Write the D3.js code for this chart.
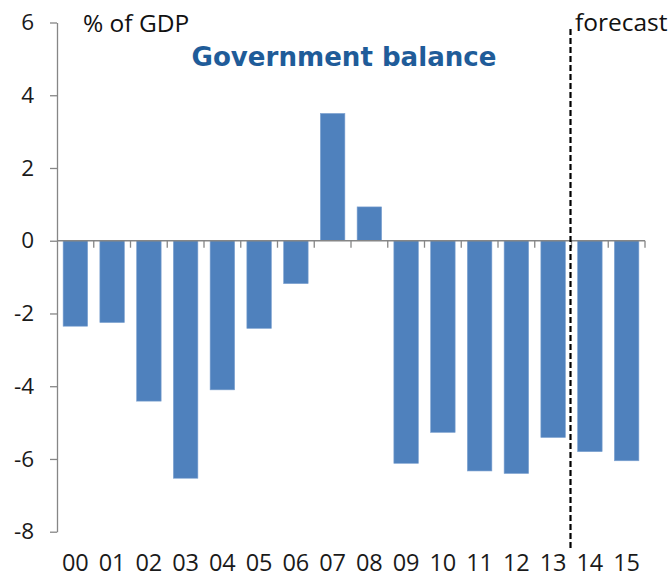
<!DOCTYPE html>
<html>
<head>
<meta charset="utf-8">
<script src="https://cdn.jsdelivr.net/npm/d3@7"></script>
<style>
  html, body { margin: 0; padding: 0; background: #fff; }
  svg { display: block; }
</style>
</head>
<body>
<svg id="chart" width="672" height="578"></svg>
<script>
// Government balance, % of GDP, by year (00 = 2000); 14 and 15 are forecasts
const years = ["00","01","02","03","04","05","06","07","08","09","10","11","12","13","14","15"];
const balance = [-2.35,-2.25,-4.41,-6.53,-4.10,-2.41,-1.18,3.50,0.93,-6.12,-5.27,-6.33,-6.40,-5.41,-5.80,-6.05];
const yTicks = [6,4,2,0,-2,-4,-6,-8];
const forecastStart = "14";

const svg = d3.select("#chart");
const plotLeft = 57, plotRight = 645, plotTop = 22.5, plotBottom = 531.7;

const x = d3.scaleBand().domain(years).range([plotLeft, plotRight]).paddingInner(0).paddingOuter(0);
const y = d3.scaleLinear().domain([-8, 6]).range([plotBottom, plotTop]);

const axisColor = "#868686";
const labelFont = "'Open Sans', 'Liberation Sans', sans-serif";

// Bars (about two thirds of each band, centred)
const barW = x.bandwidth() * 0.667;
svg.append("g").selectAll("rect")
  .data(years.map((c, i) => ({ c, v: balance[i] })))
  .join("rect")
  .attr("x", d => x(d.c) + (x.bandwidth() - barW) / 2)
  .attr("width", barW)
  .attr("y", d => y(Math.max(0, d.v)))
  .attr("height", d => Math.abs(y(d.v) - y(0)))
  .attr("fill", "#4F81BD")
  .attr("stroke", "#7FA3D1")
  .attr("stroke-width", 0.6);

// Y axis
const yAxis = d3.axisLeft(y).tickValues(yTicks).tickSize(7).tickSizeOuter(0).tickPadding(16)
  .tickFormat(d3.format("d"));
const gy = svg.append("g").attr("transform", `translate(${plotLeft},0)`).call(yAxis);
gy.select(".domain").attr("stroke", axisColor).attr("stroke-width", 1.3);
gy.selectAll(".tick line").attr("stroke", axisColor).attr("stroke-width", 1.3);
gy.selectAll(".tick text")
  .attr("fill", "#1a1a1a")
  .style("font-family", labelFont)
  .style("font-size", "22.5px")
  .text(d => d < 0 ? "-" + Math.abs(d) : d);

// Zero line with category boundary ticks
const bounds = years.map(c => x(c)).concat([plotRight]);
const gx = svg.append("g");
gx.append("line")
  .attr("x1", plotLeft).attr("x2", plotRight)
  .attr("y1", y(0)).attr("y2", y(0))
  .attr("stroke", axisColor).attr("stroke-width", 1.3);
gx.selectAll("line.tick").data(bounds.slice(1)).join("line")
  .attr("class", "tick")
  .attr("x1", d => d).attr("x2", d => d)
  .attr("y1", y(0)).attr("y2", y(0) + 7)
  .attr("stroke", axisColor).attr("stroke-width", 1.3);

// Year labels along the bottom
svg.append("g").selectAll("text").data(years).join("text")
  .attr("x", d => x(d) + x.bandwidth() / 2)
  .attr("y", 571)
  .attr("text-anchor", "middle")
  .attr("fill", "#1a1a1a")
  .style("font-family", labelFont)
  .style("font-size", "23.5px")
  .text(d => d);

// Forecast divider
const fx = x(forecastStart) - 1;
svg.append("line")
  .attr("x1", fx).attr("x2", fx)
  .attr("y1", 29).attr("y2", 548)
  .attr("stroke", "#000").attr("stroke-width", 2.2)
  .attr("stroke-dasharray", "6,3");

svg.append("text")
  .attr("x", fx + 4.5).attr("y", 30.5)
  .attr("fill", "#111")
  .style("font-family", labelFont)
  .style("font-size", "24.5px")
  .text("forecast");

// Unit label
svg.append("text")
  .attr("x", 83).attr("y", 31.5)
  .attr("fill", "#111")
  .style("font-family", labelFont)
  .style("font-size", "24.5px")
  .text("% of GDP");

// Title
const title = svg.append("text")
  .attr("x", 344).attr("y", 66)
  .attr("text-anchor", "middle")
  .attr("fill", "#1F5C99")
  .style("font-family", "'DejaVu Sans', Verdana, sans-serif")
  .style("font-weight", "bold")
  .style("font-size", "24px")
  .text("Government balance");
const tw = title.node().getComputedTextLength();
title.style("font-size", (24 * 305 / tw).toFixed(2) + "px");
</script>
</body>
</html>
